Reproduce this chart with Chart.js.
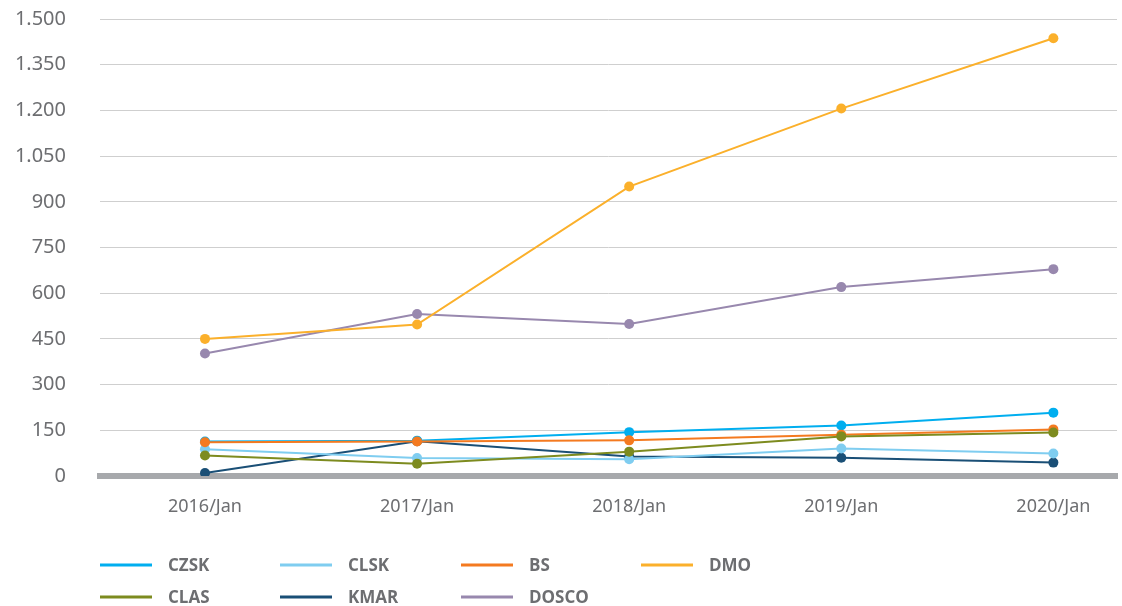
<!DOCTYPE html>
<html lang="pt">
<head>
<meta charset="UTF-8">
<title>Evolução por empresa</title>
<style>
    html, body { margin: 0; padding: 0; background: #ffffff; }
    .grafico { position: relative; width: 1122px; height: 606px; }
</style>
</head>
<body>
<div class="grafico">
    <canvas id="graficoLinhas"></canvas>
</div>

<script src="https://cdn.jsdelivr.net/npm/chart.js"></script>
<script>
    // dados do gráfico
    var anos = ['2016/Jan', '2017/Jan', '2018/Jan', '2019/Jan', '2020/Jan'];
    var czsk  = [113, 116, 144, 166, 208];
    var clsk  = [88, 59, 55, 90, 74];
    var bs    = [111, 113, 117, 135, 153];
    var dmo   = [450, 497, 950, 1206, 1437];
    var clas  = [67, 40, 80, 130, 143];
    var kmar  = [10, 114, 64, 60, 44];
    var dosco = [402, 532, 499, 620, 679];
    var eixoY = { min: 0, max: 1500, passo: 150 };

    var cinzaTexto = '#6d6e71';

    // cada ano vira uma posição numérica (0..4) no eixo x
    function pontos(valores) {
        return valores.map(function (v, i) { return { x: i, y: v }; });
    }

    function serie(nome, valores, cor, ordem) {
        return {
            label: nome,
            data: pontos(valores),
            borderColor: cor,
            backgroundColor: cor,
            pointBackgroundColor: cor,
            pointBorderColor: cor,
            borderWidth: 2,
            pointRadius: 5,
            pointBorderWidth: 0,
            tension: 0,
            order: ordem
        };
    }

    var series = [
        serie('CZSK', czsk, '#00aeef', 2),
        serie('CLSK', clsk, '#7fcdf0', 3),
        serie('BS', bs, '#f47a20', 1),
        serie('DMO', dmo, '#fbb02b', 5),
        serie('CLAS', clas, '#7d8b1f', 0),
        serie('KMAR', kmar, '#1a4f76', 4),
        serie('DOSCO', dosco, '#9888ae', 6)
    ];

    // legenda em grade fixa (4 colunas, 2 linhas)
    var legendaGrade = {
        id: 'legendaGrade',
        afterDraw: function (chart) {
            var ctx = chart.ctx;
            var colunas = [100, 280, 461, 641];
            var linhas = [565, 597];
            ctx.save();
            ctx.font = 'bold 17px "Open Sans", "Noto Sans", sans-serif';
            ctx.textBaseline = 'middle';
            ctx.textAlign = 'left';
            series.forEach(function (ds, i) {
                var x = colunas[i % 4];
                var y = linhas[Math.floor(i / 4)];
                ctx.strokeStyle = ds.borderColor;
                ctx.lineWidth = 3;
                ctx.beginPath();
                ctx.moveTo(x, y);
                ctx.lineTo(x + 52, y);
                ctx.stroke();
                ctx.fillStyle = cinzaTexto;
                ctx.fillText(ds.label, x + 68, y + 1);
            });
            ctx.restore();
        }
    };

    new Chart(document.getElementById('graficoLinhas'), {
        type: 'line',
        data: { datasets: series },
        options: {
            responsive: true,
            maintainAspectRatio: false,
            animation: false,
            layout: { padding: { top: 19, right: 2, left: 0, bottom: 0 } },
            plugins: {
                legend: { display: false },
                tooltip: { enabled: false }
            },
            scales: {
                x: {
                    type: 'linear',
                    min: -0.495,
                    max: 4.3,
                    grid: { display: false, drawTicks: false },
                    border: { display: true, color: '#a7a9ac', width: 6 },
                    ticks: {
                        color: cinzaTexto,
                        padding: 20,
                        font: { family: '"Noto Sans", "Open Sans", sans-serif', size: 18 },
                        callback: function (v) { return anos[v] || ''; }
                    },
                    // um tick por ano, sem os limites do eixo
                    afterBuildTicks: function (escala) {
                        escala.ticks = anos.map(function (a, i) { return { value: i }; });
                    },
                    afterFit: function (escala) { escala.height = 130; }
                },
                y: {
                    min: eixoY.min,
                    max: eixoY.max,
                    grid: { color: '#cfcfcf', lineWidth: 1, drawTicks: false },
                    border: { display: false },
                    ticks: {
                        stepSize: eixoY.passo,
                        color: cinzaTexto,
                        padding: 34,
                        font: { family: '"Noto Sans", "Open Sans", sans-serif', size: 20 },
                        callback: function (v) { return v.toLocaleString('de-DE'); }
                    },
                    afterFit: function (escala) {
                        escala.width = 100;
                        // o padding dos rótulos não deve empurrar a área do gráfico
                        escala.paddingTop = 0;
                        escala.paddingBottom = 0;
                    }
                }
            }
        },
        plugins: [legendaGrade]
    });
</script>
</body>
</html>
